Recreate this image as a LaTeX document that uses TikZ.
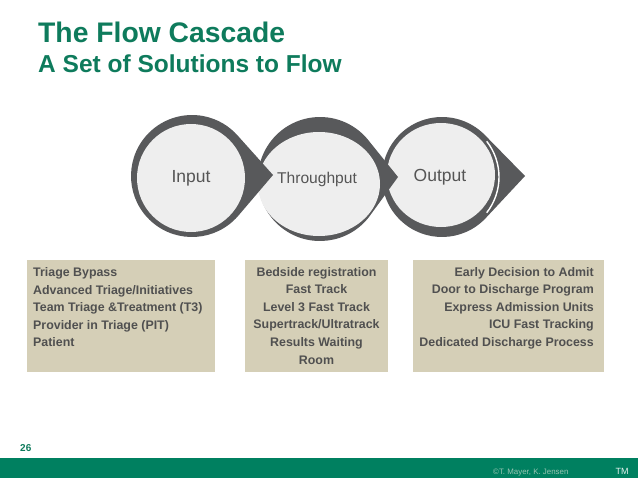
\documentclass[tikz,border=0pt]{standalone}
\usepackage{fontspec}
\setmainfont{Liberation Sans}
\definecolor{darkg}{RGB}{88,89,91}
\definecolor{lightg}{RGB}{238,238,238}
\definecolor{textg}{RGB}{85,85,85}
\definecolor{boxg}{RGB}{80,80,80}
\definecolor{beige}{RGB}{213,207,183}
\definecolor{titlegreen}{RGB}{14,123,92}
\definecolor{bargreen}{RGB}{0,128,96}
\definecolor{copyg}{RGB}{150,196,178}
\begin{document}
\begin{tikzpicture}[x=1pt,y=-1pt,
  ring/.style={fill=darkg},
  disc/.style={fill=lightg},
  stage/.style={text=textg, inner sep=0, anchor=base},
  panel/.style={fill=beige, inner sep=0, anchor=north west},
  boxtext/.style={text=boxg, inner sep=0, font=\fontsize{12.4}{17.6}\selectfont\bfseries},
  titletext/.style={text=titlegreen, inner sep=0, anchor=base west}]
\useasboundingbox (0,0) rectangle (638,479);
\fill[white] (0,0) rectangle (638,479);

% titles
\node[titletext, font=\fontsize{28.3}{30}\selectfont\bfseries] (title) at (38,42) {The Flow Cascade};
\node[titletext, font=\fontsize{24.5}{27}\selectfont\bfseries] (subtitle) at (38,72) {A Set of Solutions to Flow};

% output stage
\fill[ring] (442,177) ++(43.7:60) arc[start angle=43.7, end angle=316.3, radius=60] -- (525,176) -- cycle;
\draw[white, line width=1.4] (441,177) ++(-38:58) arc[start angle=-38, end angle=38, radius=58];
\fill[disc] (441,175) ellipse[x radius=54, y radius=52];

% throughput stage
\fill[ring] (320,179) ++(37.4:62) arc[start angle=37.4, end angle=322.6, radius=62] -- (398,177) -- cycle;
\fill[disc] (319,184) ellipse[x radius=61, y radius=52];

% input stage
\fill[ring] (192,176) ++(41.1:61) arc[start angle=41.1, end angle=318.9, radius=61] -- (273,175) -- cycle;
\fill[disc] (191,178) circle[radius=54];

\node[stage, font=\fontsize{17.5}{20}\selectfont] (input) at (191,182) {Input};
\node[stage, font=\fontsize{15.6}{18}\selectfont] (through) at (317,183) {Throughput};
\node[stage, font=\fontsize{17.5}{20}\selectfont] (output) at (440,181) {Output};

% boxes
\node[panel, minimum width=188, minimum height=112] (b1) at (27,260) {};
\node[panel, minimum width=143, minimum height=112] (b2) at (245,260) {};
\node[panel, minimum width=191, minimum height=112] (b3) at (413,260) {};

\node[boxtext, anchor=north west, align=left] (t1) at (33,267.3)
  {Triage Bypass\\Advanced Triage/Initiatives\\Team Triage \&Treatment (T3)\\Provider in Triage (PIT)\\Patient};
\node[boxtext, anchor=north, align=center] (t2) at (316.5,267)
  {Bedside registration\\Fast Track\\Level 3 Fast Track\\Supertrack/Ultratrack\\Results Waiting\\Room};
\node[boxtext, anchor=north east, align=right] (t3) at (594,267)
  {Early Decision to Admit\\Door to Discharge Program\\Express Admission Units\\ICU Fast Tracking\\Dedicated Discharge Process};

% footer
\node[titletext, font=\fontsize{10}{12}\selectfont\bfseries] (page) at (20,451) {26};
\fill[bargreen] (0,458) rectangle (638,478);
\node[inner sep=0, anchor=base west, text=copyg, font=\fontsize{7.9}{9}\selectfont] (copy) at (493,474) {©T. Mayer, K. Jensen};
\node[inner sep=0, anchor=base, text=white!90!bargreen, font=\fontsize{9}{10}\selectfont] (tm) at (622,474) {TM};
\end{tikzpicture}
\end{document}
